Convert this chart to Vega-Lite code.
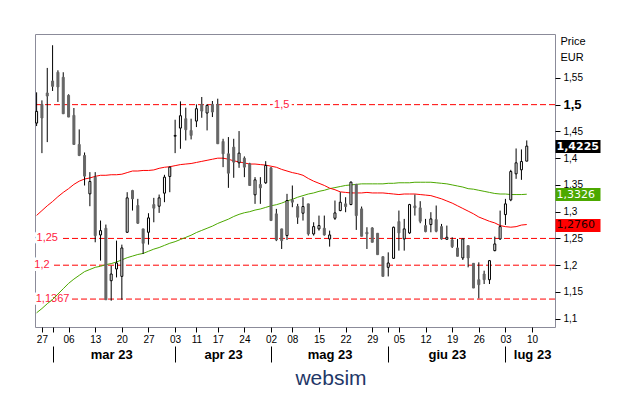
{
  "$schema": "https://vega.github.io/schema/vega-lite/v6.json",
  "width": 520,
  "height": 293,
  "autosize": {"type": "none"},
  "padding": {"left": 35, "top": 34, "right": 74, "bottom": 68},
  "background": "white",
  "config": {
    "view": {"stroke": "#8b8b99", "strokeWidth": 1},
    "font": "Liberation Sans",
    "axis": {"labelFont": "Liberation Sans", "labelColor": "#000000", "tickColor": "#000000", "grid": false, "domain": false}
  },
  "title": {"text": "websim", "orient": "bottom", "anchor": "middle", "dx": 36, "offset": 5, "fontSize": 21, "fontWeight": "normal", "color": "#1f3868", "font": "Liberation Sans"},
  "datasets": {
    "lv": [
      {"v": 1.5, "t": "1,5", "d": "2023-05-04"},
      {"v": 1.25, "t": "1,25", "d": "2023-02-28"},
      {"v": 1.2, "t": "1,2", "d": "2023-02-27"},
      {"v": 1.1367, "t": "1,1367", "d": "2023-03-01"}
    ],
    "px": [
      {"d":"2023-02-24","o":1.4656,"h":1.523,"l":1.46,"c":1.4874,"r":1.293,"g":1.111},
      {"d":"2023-02-27","o":1.5005,"h":1.508,"l":1.4094,"c":1.475,"r":1.302,"g":1.119},
      {"d":"2023-02-28","o":1.5218,"h":1.5686,"l":1.43,"c":1.5161,"r":1.311,"g":1.128},
      {"d":"2023-03-01","o":1.5442,"h":1.611,"l":1.5255,"c":1.5342,"r":1.319,"g":1.136},
      {"d":"2023-03-02","o":1.5605,"h":1.5642,"l":1.505,"c":1.533,"r":1.328,"g":1.146},
      {"d":"2023-03-03","o":1.5511,"h":1.5605,"l":1.4824,"c":1.483,"r":1.336,"g":1.156},
      {"d":"2023-03-06","o":1.5174,"h":1.5193,"l":1.4768,"c":1.4768,"r":1.343,"g":1.166},
      {"d":"2023-03-07","o":1.48,"h":1.4937,"l":1.425,"c":1.4256,"r":1.351,"g":1.174},
      {"d":"2023-03-08","o":1.4256,"h":1.4537,"l":1.4038,"c":1.405,"r":1.357,"g":1.181},
      {"d":"2023-03-09","o":1.405,"h":1.4106,"l":1.3489,"c":1.3664,"r":1.361,"g":1.188},
      {"d":"2023-03-10","o":1.3333,"h":1.3739,"l":1.3102,"c":1.3564,"r":1.363,"g":1.192},
      {"d":"2023-03-13","o":1.3644,"h":1.3739,"l":1.2428,"c":1.2553,"r":1.366,"g":1.196},
      {"d":"2023-03-14","o":1.2565,"h":1.2834,"l":1.2085,"c":1.2646,"r":1.368,"g":1.198},
      {"d":"2023-03-15","o":1.269,"h":1.2759,"l":1.1354,"c":1.1354,"r":1.368,"g":1.201},
      {"d":"2023-03-16","o":1.171,"h":1.199,"l":1.1336,"c":1.1835,"r":1.369,"g":1.203},
      {"d":"2023-03-17","o":1.1929,"h":1.2459,"l":1.1772,"c":1.2041,"r":1.369,"g":1.206},
      {"d":"2023-03-20","o":1.1791,"h":1.2384,"l":1.1354,"c":1.2322,"r":1.37,"g":1.21},
      {"d":"2023-03-21","o":1.2615,"h":1.3364,"l":1.2603,"c":1.3258,"r":1.373,"g":1.214},
      {"d":"2023-03-22","o":1.3395,"h":1.3408,"l":1.3021,"c":1.3239,"r":1.376,"g":1.217},
      {"d":"2023-03-23","o":1.3115,"h":1.324,"l":1.2771,"c":1.2784,"r":1.376,"g":1.22},
      {"d":"2023-03-24","o":1.2678,"h":1.2678,"l":1.221,"c":1.2409,"r":1.377,"g":1.222},
      {"d":"2023-03-27","o":1.2615,"h":1.2971,"l":1.2384,"c":1.2884,"r":1.377,"g":1.226},
      {"d":"2023-03-28","o":1.3133,"h":1.3258,"l":1.2802,"c":1.3065,"r":1.378,"g":1.23},
      {"d":"2023-03-29","o":1.3102,"h":1.332,"l":1.2977,"c":1.3258,"r":1.381,"g":1.233},
      {"d":"2023-03-30","o":1.3346,"h":1.3689,"l":1.3177,"c":1.3645,"r":1.383,"g":1.237},
      {"d":"2023-03-31","o":1.3658,"h":1.3844,"l":1.3364,"c":1.3832,"r":1.384,"g":1.241},
      {"d":"2023-04-03","o":1.441,"h":1.4718,"l":1.4094,"c":1.4425,"r":1.386,"g":1.244},
      {"d":"2023-04-04","o":1.4562,"h":1.5061,"l":1.4175,"c":1.4793,"r":1.388,"g":1.248},
      {"d":"2023-04-05","o":1.4737,"h":1.4943,"l":1.4331,"c":1.4531,"r":1.389,"g":1.252},
      {"d":"2023-04-06","o":1.4518,"h":1.4737,"l":1.435,"c":1.4425,"r":1.39,"g":1.256},
      {"d":"2023-04-11","o":1.4693,"h":1.5005,"l":1.4581,"c":1.4924,"r":1.392,"g":1.261},
      {"d":"2023-04-12","o":1.5005,"h":1.5143,"l":1.4755,"c":1.488,"r":1.394,"g":1.265},
      {"d":"2023-04-13","o":1.4843,"h":1.5005,"l":1.4518,"c":1.4986,"r":1.396,"g":1.269},
      {"d":"2023-04-14","o":1.5005,"h":1.5068,"l":1.4768,"c":1.4862,"r":1.398,"g":1.273},
      {"d":"2023-04-17","o":1.5005,"h":1.5111,"l":1.4269,"c":1.4269,"r":1.4,"g":1.278},
      {"d":"2023-04-18","o":1.4312,"h":1.4362,"l":1.3832,"c":1.4081,"r":1.4,"g":1.282},
      {"d":"2023-04-19","o":1.4081,"h":1.4394,"l":1.3445,"c":1.3719,"r":1.398,"g":1.286},
      {"d":"2023-04-20","o":1.4206,"h":1.4362,"l":1.3633,"c":1.3925,"r":1.395,"g":1.291},
      {"d":"2023-04-21","o":1.3913,"h":1.4506,"l":1.3819,"c":1.4094,"r":1.393,"g":1.295},
      {"d":"2023-04-24","o":1.4,"h":1.4032,"l":1.3645,"c":1.3832,"r":1.391,"g":1.298},
      {"d":"2023-04-25","o":1.3894,"h":1.3913,"l":1.348,"c":1.3489,"r":1.389,"g":1.3},
      {"d":"2023-04-26","o":1.3315,"h":1.3645,"l":1.3146,"c":1.3595,"r":1.389,"g":1.303},
      {"d":"2023-04-27","o":1.3508,"h":1.3645,"l":1.3146,"c":1.3445,"r":1.388,"g":1.305},
      {"d":"2023-04-28","o":1.3539,"h":1.3944,"l":1.352,"c":1.3863,"r":1.387,"g":1.308},
      {"d":"2023-05-02","o":1.382,"h":1.383,"l":1.2834,"c":1.2834,"r":1.385,"g":1.311},
      {"d":"2023-05-03","o":1.2959,"h":1.3052,"l":1.245,"c":1.2472,"r":1.383,"g":1.313},
      {"d":"2023-05-04","o":1.2678,"h":1.268,"l":1.2303,"c":1.2459,"r":1.379,"g":1.316},
      {"d":"2023-05-05","o":1.2553,"h":1.3333,"l":1.2472,"c":1.3208,"r":1.376,"g":1.32},
      {"d":"2023-05-08","o":1.3221,"h":1.3489,"l":1.3083,"c":1.3177,"r":1.373,"g":1.323},
      {"d":"2023-05-09","o":1.3096,"h":1.3146,"l":1.2771,"c":1.2896,"r":1.371,"g":1.327},
      {"d":"2023-05-10","o":1.2971,"h":1.327,"l":1.2834,"c":1.3096,"r":1.368,"g":1.33},
      {"d":"2023-05-11","o":1.3146,"h":1.3146,"l":1.2553,"c":1.2584,"r":1.362,"g":1.333},
      {"d":"2023-05-12","o":1.2584,"h":1.2802,"l":1.2553,"c":1.2721,"r":1.357,"g":1.335},
      {"d":"2023-05-15","o":1.2678,"h":1.2927,"l":1.2646,"c":1.274,"r":1.353,"g":1.338},
      {"d":"2023-05-16","o":1.269,"h":1.2927,"l":1.2553,"c":1.2565,"r":1.349,"g":1.34},
      {"d":"2023-05-17","o":1.249,"h":1.2646,"l":1.2347,"c":1.2565,"r":1.344,"g":1.343},
      {"d":"2023-05-18","o":1.2877,"h":1.3208,"l":1.2846,"c":1.2977,"r":1.341,"g":1.345},
      {"d":"2023-05-19","o":1.3021,"h":1.3364,"l":1.3008,"c":1.3177,"r":1.337,"g":1.347},
      {"d":"2023-05-22","o":1.3146,"h":1.327,"l":1.299,"c":1.3096,"r":1.336,"g":1.349},
      {"d":"2023-05-23","o":1.3133,"h":1.3564,"l":1.3121,"c":1.3552,"r":1.335,"g":1.35},
      {"d":"2023-05-24","o":1.3508,"h":1.352,"l":1.2659,"c":1.2927,"r":1.335,"g":1.351},
      {"d":"2023-05-25","o":1.3052,"h":1.3096,"l":1.254,"c":1.254,"r":1.335,"g":1.352},
      {"d":"2023-05-26","o":1.2615,"h":1.2709,"l":1.2303,"c":1.2584,"r":1.336,"g":1.352},
      {"d":"2023-05-29","o":1.2696,"h":1.2709,"l":1.2428,"c":1.2428,"r":1.335,"g":1.352},
      {"d":"2023-05-30","o":1.2596,"h":1.26,"l":1.2197,"c":1.2197,"r":1.335,"g":1.352},
      {"d":"2023-05-31","o":1.2159,"h":1.216,"l":1.179,"c":1.1791,"r":1.335,"g":1.352},
      {"d":"2023-06-01","o":1.196,"h":1.224,"l":1.179,"c":1.2041,"r":1.334,"g":1.353},
      {"d":"2023-06-02","o":1.2128,"h":1.2721,"l":1.2116,"c":1.2709,"r":1.333,"g":1.353},
      {"d":"2023-06-05","o":1.2815,"h":1.3021,"l":1.2272,"c":1.2603,"r":1.332,"g":1.354},
      {"d":"2023-06-06","o":1.249,"h":1.2865,"l":1.2272,"c":1.2678,"r":1.333,"g":1.354},
      {"d":"2023-06-07","o":1.2603,"h":1.3146,"l":1.2584,"c":1.3133,"r":1.333,"g":1.354},
      {"d":"2023-06-08","o":1.3108,"h":1.332,"l":1.2927,"c":1.3071,"r":1.333,"g":1.355},
      {"d":"2023-06-09","o":1.3071,"h":1.3196,"l":1.2784,"c":1.2821,"r":1.332,"g":1.355},
      {"d":"2023-06-12","o":1.274,"h":1.2865,"l":1.2615,"c":1.2628,"r":1.331,"g":1.355},
      {"d":"2023-06-13","o":1.2759,"h":1.299,"l":1.2615,"c":1.2865,"r":1.33,"g":1.355},
      {"d":"2023-06-14","o":1.2852,"h":1.3115,"l":1.2615,"c":1.2634,"r":1.327,"g":1.354},
      {"d":"2023-06-15","o":1.2721,"h":1.2771,"l":1.2478,"c":1.249,"r":1.324,"g":1.353},
      {"d":"2023-06-16","o":1.2484,"h":1.274,"l":1.2472,"c":1.2522,"r":1.32,"g":1.352},
      {"d":"2023-06-19","o":1.2472,"h":1.2522,"l":1.2322,"c":1.2347,"r":1.316,"g":1.35},
      {"d":"2023-06-20","o":1.2322,"h":1.249,"l":1.2166,"c":1.2166,"r":1.311,"g":1.348},
      {"d":"2023-06-21","o":1.2135,"h":1.249,"l":1.2097,"c":1.249,"r":1.306,"g":1.346},
      {"d":"2023-06-22","o":1.2365,"h":1.2365,"l":1.196,"c":1.2135,"r":1.301,"g":1.343},
      {"d":"2023-06-23","o":1.2035,"h":1.2035,"l":1.1573,"c":1.1573,"r":1.296,"g":1.342},
      {"d":"2023-06-26","o":1.1729,"h":1.2053,"l":1.138,"c":1.1635,"r":1.29,"g":1.34},
      {"d":"2023-06-27","o":1.1835,"h":1.1897,"l":1.1648,"c":1.1729,"r":1.286,"g":1.338},
      {"d":"2023-06-28","o":1.1729,"h":1.2097,"l":1.1648,"c":1.2085,"r":1.282,"g":1.336},
      {"d":"2023-06-29","o":1.2272,"h":1.2534,"l":1.226,"c":1.2397,"r":1.279,"g":1.334},
      {"d":"2023-06-30","o":1.249,"h":1.302,"l":1.2472,"c":1.2721,"r":1.274,"g":1.333},
      {"d":"2023-07-03","o":1.2946,"h":1.3239,"l":1.2752,"c":1.3146,"r":1.272,"g":1.333},
      {"d":"2023-07-04","o":1.322,"h":1.3782,"l":1.3196,"c":1.375,"r":1.271,"g":1.332},
      {"d":"2023-07-05","o":1.3707,"h":1.4181,"l":1.3614,"c":1.3913,"r":1.272,"g":1.332},
      {"d":"2023-07-06","o":1.3782,"h":1.4163,"l":1.3595,"c":1.3937,"r":1.275,"g":1.332},
      {"d":"2023-07-07","o":1.3944,"h":1.4331,"l":1.3944,"c":1.4225,"r":1.276,"g":1.3326}
    ]
  },
  "resolve": {"axis": {"x": "independent", "y": "independent"}},
  "layer": [
    {
      "data": {"name": "lv"},
      "mark": {"type": "rule", "color": "#ff0000", "strokeWidth": 1, "strokeDash": [6, 3]},
      "encoding": {
        "y": {"field": "v", "type": "quantitative", "axis": null}
      }
    },
    {
      "data": {"name": "lv"},
      "mark": {"type": "text", "font": "Liberation Sans", "fontSize": 11, "fill": "white", "stroke": "white", "strokeWidth": 6, "strokeJoin": "round", "align": "center", "baseline": "middle"},
      "encoding": {
        "x": {"field": "d", "type": "ordinal", "axis": null},
        "y": {"field": "v", "type": "quantitative", "axis": null},
        "text": {"field": "t"}
      }
    },
    {
      "data": {"name": "lv"},
      "mark": {"type": "text", "font": "Liberation Sans", "fontSize": 11, "fill": "#ff1a40", "align": "center", "baseline": "middle"},
      "encoding": {
        "x": {"field": "d", "type": "ordinal", "axis": null},
        "y": {"field": "v", "type": "quantitative", "axis": null},
        "text": {"field": "t"}
      }
    },
    {
      "data": {"name": "px"},
      "mark": {"type": "line", "color": "#4ca800", "strokeWidth": 1},
      "encoding": {
        "x": {"field": "d", "type": "ordinal", "axis": null},
        "y": {"field": "g", "type": "quantitative", "axis": null}
      }
    },
    {
      "data": {"name": "px"},
      "mark": {"type": "line", "color": "#ff0000", "strokeWidth": 1},
      "encoding": {
        "x": {
          "field": "d", "type": "ordinal",
          "axis": {
            "orient": "bottom", "title": null, "offset": 19, "ticks": false, "tickSize": 0, "domain": false,
            "values": ["2023-03-16", "2023-04-18", "2023-05-17", "2023-06-16", "2023-07-10"],
            "labelExpr": "['','gen','feb','mar','apr','mag','giu','lug','ago','set','ott','nov','dic'][toNumber(slice(datum.value,5,7))] + ' 23'",
            "labelAngle": 0, "labelPadding": 2, "labelFontSize": 13, "labelFontWeight": "bold", "labelOverlap": false, "labelBaseline": "top"
          }
        },
        "y": {"field": "r", "type": "quantitative", "axis": null}
      }
    },
    {
      "data": {"name": "px"},
      "mark": {"type": "rule", "color": "#000000", "strokeWidth": 1},
      "encoding": {
        "x": {
          "field": "d", "type": "ordinal",
          "scale": {"type": "point", "padding": 0.3, "domain": ["2023-02-24","2023-02-27","2023-02-28","2023-03-01","2023-03-02","2023-03-03","2023-03-06","2023-03-07","2023-03-08","2023-03-09","2023-03-10","2023-03-13","2023-03-14","2023-03-15","2023-03-16","2023-03-17","2023-03-20","2023-03-21","2023-03-22","2023-03-23","2023-03-24","2023-03-27","2023-03-28","2023-03-29","2023-03-30","2023-03-31","2023-04-03","2023-04-04","2023-04-05","2023-04-06","2023-04-11","2023-04-12","2023-04-13","2023-04-14","2023-04-17","2023-04-18","2023-04-19","2023-04-20","2023-04-21","2023-04-24","2023-04-25","2023-04-26","2023-04-27","2023-04-28","2023-05-02","2023-05-03","2023-05-04","2023-05-05","2023-05-08","2023-05-09","2023-05-10","2023-05-11","2023-05-12","2023-05-15","2023-05-16","2023-05-17","2023-05-18","2023-05-19","2023-05-22","2023-05-23","2023-05-24","2023-05-25","2023-05-26","2023-05-29","2023-05-30","2023-05-31","2023-06-01","2023-06-02","2023-06-05","2023-06-06","2023-06-07","2023-06-08","2023-06-09","2023-06-12","2023-06-13","2023-06-14","2023-06-15","2023-06-16","2023-06-19","2023-06-20","2023-06-21","2023-06-22","2023-06-23","2023-06-26","2023-06-27","2023-06-28","2023-06-29","2023-06-30","2023-07-03","2023-07-04","2023-07-05","2023-07-06","2023-07-07","2023-07-10","2023-07-11","2023-07-12","2023-07-13","2023-07-14"]},
          "axis": {
            "orient": "bottom", "title": null, "domain": false, "ticks": true, "tickSize": 5, "tickColor": "#000000",
            "values": ["2023-02-27","2023-03-01","2023-03-06","2023-03-13","2023-03-20","2023-03-27","2023-04-03","2023-04-11","2023-04-17","2023-04-24","2023-05-02","2023-05-08","2023-05-15","2023-05-22","2023-05-29","2023-06-01","2023-06-05","2023-06-12","2023-06-19","2023-06-26","2023-07-03","2023-07-10"],
            "labelExpr": "datum.value == '2023-03-01' || datum.value == '2023-06-01' ? '' : slice(datum.value, 8)",
            "labelAngle": 0, "labelPadding": 2, "labelFontSize": 10, "labelOverlap": false, "labelBaseline": "top", "zindex": 1
          }
        },
        "y": {
          "field": "l", "type": "quantitative",
          "scale": {"domain": [1.0845, 1.632], "nice": false, "zero": false},
          "axis": {
            "orient": "right", "domain": false, "grid": false,
            "values": [1.1, 1.15, 1.2, 1.25, 1.3, 1.35, 1.4, 1.45, 1.5, 1.55],
            "labelExpr": "replace(format(datum.value, '.2~f'), '.', ',')",
            "tickSize": 5, "tickColor": "#000000", "labelPadding": 3, "labelBaseline": "middle", "labelOverlap": false,
            "labelFontSize": {"condition": {"test": "abs(datum.value - 1.5) < 0.001", "value": 13}, "value": 10},
            "labelFontWeight": {"condition": {"test": "abs(datum.value - 1.5) < 0.001", "value": "bold"}, "value": "normal"},
            "title": ["Price", "EUR"], "titleAngle": 0, "titleAlign": "left", "titleBaseline": "top",
            "titleX": 5, "titleY": 1, "titleFontSize": 11, "titleFontWeight": "normal", "titleColor": "#000000", "titleLineHeight": 16,
            "zindex": 1
          }
        },
        "y2": {"field": "h"}
      }
    },
    {
      "data": {"name": "px"},
      "mark": {"type": "bar", "width": 2, "strokeWidth": 1},
      "encoding": {
        "x": {
          "field": "d", "type": "ordinal",
          "axis": {
            "orient": "bottom", "title": null, "offset": 19, "domain": false, "labels": false, "ticks": true, "tickSize": 16, "tickColor": "#000000",
            "values": ["2023-03-01", "2023-04-03", "2023-05-02", "2023-06-01", "2023-07-03"]
          }
        },
        "y": {
          "field": "o", "type": "quantitative",
          "axis": {
            "orient": "right", "domain": false, "grid": false, "title": null,
            "values": [1.4225, 1.3326, 1.276],
            "labelExpr": "replace(format(datum.value, '.4f'), '.', ',')",
            "tickSize": 45, "tickWidth": 13, "tickCap": "butt",
            "tickColor": {"expr": "datum.value > 1.4 ? '#000000' : datum.value > 1.3 ? '#4ca800' : '#ff0000'"},
            "labelPadding": -44, "labelAlign": "left", "labelBaseline": "middle", "labelFont": "DejaVu Sans", "labelFontSize": 11,
            "labelColor": {"expr": "datum.value > 1.3 ? '#ffffff' : '#220000'"},
            "labelFontWeight": {"condition": {"test": "datum.value > 1.4", "value": "bold"}, "value": "normal"},
            "labelOverlap": false, "labelBound": false, "zindex": 2
          }
        },
        "y2": {"field": "c"},
        "fill": {"condition": {"test": "datum.c >= datum.o", "value": "#ffffff"}, "value": "#666666"},
        "stroke": {"condition": {"test": "datum.c >= datum.o", "value": "#000000"}, "value": "#666666"}
      }
    }
  ]
}
